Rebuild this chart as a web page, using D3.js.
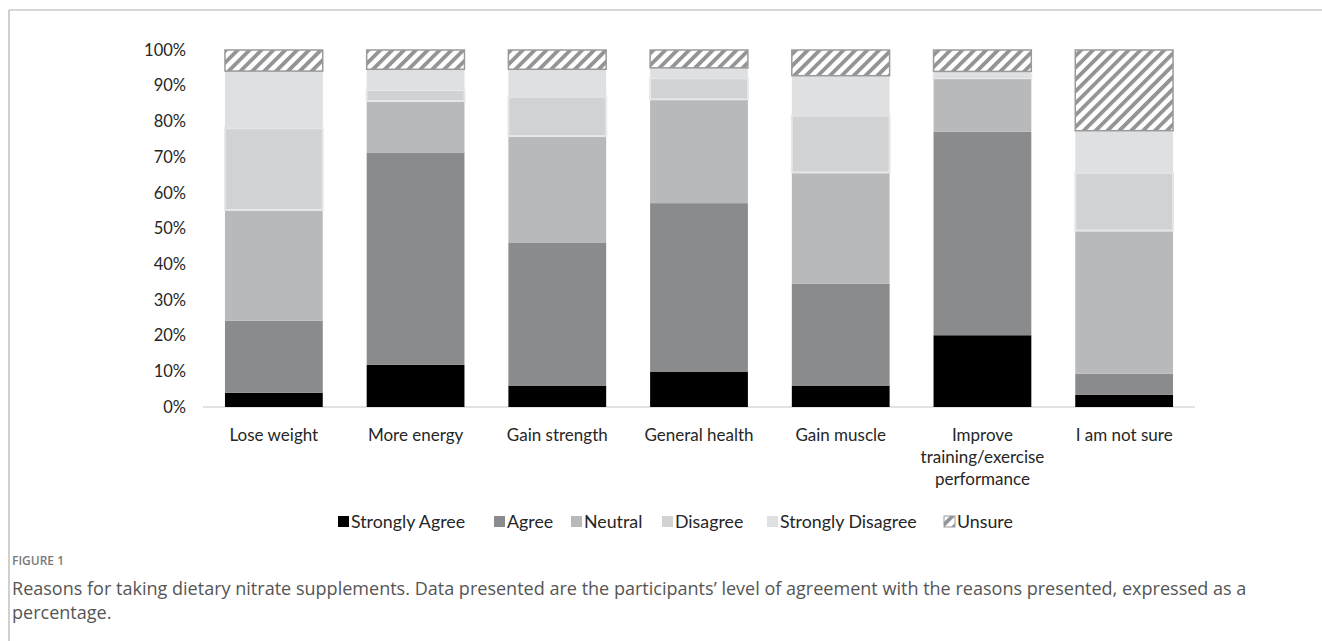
<!DOCTYPE html>
<html>
<head>
<meta charset="utf-8">
<script src="https://cdn.jsdelivr.net/npm/d3@7"></script>
<style>
  html, body { margin: 0; padding: 0; background: #fff; }
  svg { display: block; }
</style>
</head>
<body>
<svg id="chart" width="1322" height="641"></svg>
<script>
// Reasons for taking dietary nitrate supplements (% of participants)
const categories = [
  ["Lose weight"],
  ["More energy"],
  ["Gain strength"],
  ["General health"],
  ["Gain muscle"],
  ["Improve", "training/exercise", "performance"],
  ["I am not sure"]
];
const seriesNames = ["Strongly Agree", "Agree", "Neutral", "Disagree", "Strongly Disagree", "Unsure"];

const stronglyAgree    = [4.0, 11.8, 6.0, 9.8, 6.0, 20.1, 3.4];
const agree            = [20.2, 59.5, 40.1, 47.3, 28.5, 57.0, 5.9];
const neutral          = [31.0, 14.4, 29.8, 29.1, 31.2, 15.0, 40.1];
const disagree         = [22.9, 3.1, 11.0, 5.9, 15.9, 0.8, 16.2];
const stronglyDisagree = [16.0, 5.8, 7.7, 2.9, 11.2, 1.1, 11.8];
const unsure           = [5.9, 5.4, 5.4, 5.0, 7.2, 6.0, 22.6];

const yTicks = [0, 10, 20, 30, 40, 50, 60, 70, 80, 90, 100];

const seriesValues = [stronglyAgree, agree, neutral, disagree, stronglyDisagree, unsure];
const fills = ["#000000", "#8a8b8d", "#b8b9bb", "#d1d2d4", "#dfe0e2", "url(#hatch)"];
const strokes = ["none", "none", "none", "#e6e7e9", "none", "#999a9c"];
const strokeW = [0, 0, 0, 2, 0, 1.5];

const svg = d3.select("#chart");
const font = "Lato, 'Open Sans', sans-serif";

// diagonal hatch for the "Unsure" series
const defs = svg.append("defs");
const pat = defs.append("pattern")
  .attr("id", "hatch")
  .attr("patternUnits", "userSpaceOnUse")
  .attr("width", 8.4).attr("height", 8.4)
  .attr("patternTransform", "rotate(45)");
pat.append("rect").attr("width", 8.4).attr("height", 8.4).attr("fill", "#ffffff");
pat.append("rect").attr("width", 3.8).attr("height", 8.4).attr("fill", "#939496");

// outer figure frame (top and left rules)
svg.append("line").attr("x1", 9).attr("x2", 1322).attr("y1", 10).attr("y2", 10)
  .attr("stroke", "#b0b0b0").attr("stroke-width", 1.2);
svg.append("line").attr("x1", 9).attr("x2", 9).attr("y1", 10).attr("y2", 641)
  .attr("stroke", "#b0b0b0").attr("stroke-width", 1.2);

const x = d3.scaleBand()
  .domain(d3.range(categories.length))
  .range([203, 1195])
  .paddingInner(0.31)
  .paddingOuter(0.155);

const y = d3.scaleLinear().domain([0, 100]).range([407, 50]);

// stacked layout
const rows = categories.map((c, i) => {
  const r = { i };
  seriesNames.forEach((s, k) => { r[s] = seriesValues[k][i]; });
  return r;
});
const stacked = d3.stack().keys(seriesNames)(rows);

// baseline
svg.append("line")
  .attr("x1", x.range()[0]).attr("x2", x.range()[1])
  .attr("y1", y(0)).attr("y2", y(0))
  .attr("stroke", "#d9d9d9").attr("stroke-width", 1.5);

// y axis labels
const yAxis = svg.append("g")
  .attr("transform", "translate(186,0)")
  .call(d3.axisLeft(y).tickValues(yTicks).tickFormat(d => d + "%").tickSize(0).tickPadding(0));
yAxis.select(".domain").remove();
yAxis.selectAll("text")
  .attr("font-family", font).attr("font-size", 16.5).attr("fill", "#262626");

// bars
const layers = svg.append("g").selectAll("g")
  .data(stacked)
  .join("g")
  .attr("fill", (d, k) => fills[k])
  .attr("stroke", (d, k) => strokes[k])
  .attr("stroke-width", (d, k) => strokeW[k]);

layers.selectAll("rect")
  .data(d => d)
  .join("rect")
  .attr("x", d => x(d.data.i))
  .attr("width", x.bandwidth())
  .attr("y", d => y(d[1]))
  .attr("height", d => y(d[0]) - y(d[1]));

// category labels
const xAxis = svg.append("g")
  .attr("transform", `translate(0,${y(0)})`)
  .call(d3.axisBottom(x).tickSize(0).tickFormat(""));
xAxis.select(".domain").remove();
xAxis.selectAll(".tick").each(function(i) {
  const t = d3.select(this).append("text")
    .attr("text-anchor", "middle")
    .attr("font-family", font).attr("font-size", 17).attr("fill", "#262626");
  categories[i].forEach((line, j) => {
    t.append("tspan").attr("x", 0).attr("y", 34 + j * 22).text(line);
  });
});

// legend
const legendX = [338, 494, 571, 662, 767, 944];
const legend = svg.append("g").attr("transform", "translate(0,522)");
seriesNames.forEach((s, k) => {
  const g = legend.append("g").attr("transform", `translate(${legendX[k]},0)`);
  g.append("rect").attr("x", 0).attr("y", -6).attr("width", 11).attr("height", 11)
    .attr("fill", fills[k])
    .attr("stroke", k === 5 ? "#999a9c" : "none").attr("stroke-width", 1);
  g.append("text").attr("x", 13).attr("y", 0).attr("dy", "0.35em")
    .attr("font-family", font).attr("font-size", 17.8).attr("fill", "#262626")
    .text(s);
});

// caption
const capFont = "'Open Sans', 'Noto Sans', sans-serif";
svg.append("text").attr("x", 12).attr("y", 565)
  .attr("font-family", capFont).attr("font-size", 12).attr("font-weight", 600)
  .attr("fill", "#7a7a7a").text("FIGURE 1");
svg.append("text").attr("x", 12).attr("y", 595)
  .attr("font-family", capFont).attr("font-size", 18.05).attr("fill", "#555555")
  .text("Reasons for taking dietary nitrate supplements. Data presented are the participants\u2019 level of agreement with the reasons presented, expressed as a");
svg.append("text").attr("x", 12).attr("y", 619)
  .attr("font-family", capFont).attr("font-size", 18.05).attr("fill", "#555555")
  .text("percentage.");
</script>
</body>
</html>
